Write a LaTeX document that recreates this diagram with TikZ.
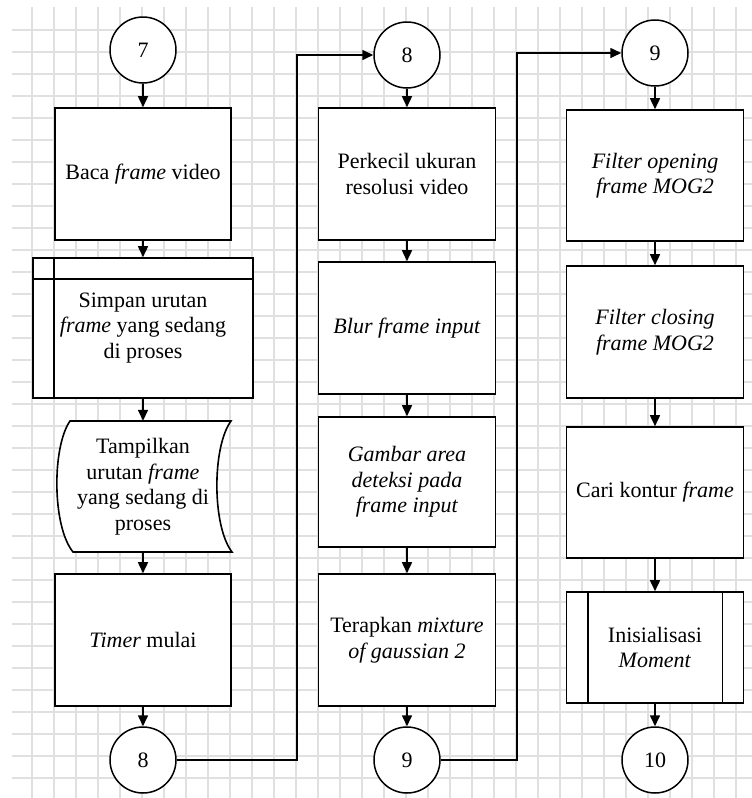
\documentclass[tikz,border=0pt]{standalone}
\usepackage{fontspec}
\setmainfont{Liberation Serif}
\usetikzlibrary{arrows.meta}
\begin{document}
\begin{tikzpicture}[x=1pt,y=-1pt,
  every node/.style={font=\fontsize{22}{25.5}\selectfont, align=center, inner sep=0pt},
  proc/.style={draw, line width=1.6pt, fill=white, minimum width=177pt, minimum height=132pt},
  conn/.style={draw, circle, line width=1.5pt, fill=white, minimum size=66pt},
  flow/.style={line width=1.6pt, -{Triangle[length=11pt,width=10pt]}},
  gridline/.style={draw=black!12, line width=1.2pt},
  outline/.style={line width=1.6pt},
]
\useasboundingbox (0,0) rectangle (752,798);
\fill[white] (0,0) rectangle (752,798);

% background grid
\begin{scope}
  \clip (12,7) rectangle (752,798);
  \foreach \gx in {32,54,...,752} \draw[gridline] (\gx,7) -- (\gx,798);
  \foreach \gy in {30,52,...,798} \draw[gridline] (12,\gy) -- (752,\gy);
\end{scope}

% ---- first column ----
\node[conn] (c7) at (143,50) {7};
\node[proc, minimum width=176pt] (b1) at (143,174) {Baca \textit{frame} video};
\node[proc, minimum width=220pt, minimum height=140pt] (b2) at (143,328)
  {Simpan urutan\\\textit{frame} yang sedang\\di proses};
\draw[outline] ([xshift=22pt]b2.north west) -- ([xshift=22pt]b2.south west);
\draw[outline] ([yshift=-22pt]b2.north west) -- ([yshift=-22pt]b2.north east);
% display shape
\fill[white] (70,421) -- (231,421) .. controls (212,447) and (212,526) .. (232,552)
  -- (73,552) .. controls (52,526) and (52,447) .. cycle;
\draw[outline] (70,421) -- (231,421) .. controls (212,447) and (212,526) .. (232,552)
  -- (73,552) .. controls (52,526) and (52,447) .. cycle;
\node[minimum width=176pt, minimum height=131pt] (b3) at (143,486.5)
  {Tampilkan\\urutan \textit{frame}\\yang sedang di\\proses};
\node[proc, minimum width=176pt] (b4) at (143,640) {\textit{Timer} mulai};
\node[conn] (c8a) at (143,760) {8};

\draw[flow] (c7) -- (b1);
\draw[flow] (b1) -- (b2);
\draw[flow] (b2) -- (b3);
\draw[flow] (b3) -- (b4);
\draw[flow] (b4) -- (c8a);

% ---- second column ----
\node[conn] (c8b) at (407,55) {8};
\node[proc] (p1) at (407,174) {Perkecil ukuran\\resolusi video};
\node[proc] (p2) at (407,328) {\textit{Blur frame input}};
\node[proc, minimum height=130pt] (p3) at (407,482)
  {\textit{Gambar area}\\\textit{deteksi pada}\\\textit{frame input}};
\node[proc] (p4) at (407,640) {Terapkan \textit{mixture}\\\textit{of gaussian 2}};
\node[conn] (c9a) at (407,760) {9};

\draw[flow] (c8b) -- (p1);
\draw[flow] (p1) -- (p2);
\draw[flow] (p2) -- (p3);
\draw[flow] (p3) -- (p4);
\draw[flow] (p4) -- (c9a);

% ---- third column ----
\node[conn] (c9b) at (655,53) {9};
\node[proc, minimum height=131pt] (q1) at (655,175.5) {\textit{Filter opening}\\\textit{frame MOG2}};
\node[proc] (q2) at (655,332) {\textit{Filter closing}\\\textit{frame MOG2}};
\node[proc, minimum height=131pt] (q3) at (655,492.5) {Cari kontur \textit{frame}};
\node[proc, minimum height=111pt] (q4) at (655,647.5) {Inisialisasi\\\textit{Moment}};
\draw[outline] ([xshift=22pt]q4.north west) -- ([xshift=22pt]q4.south west);
\draw[outline] ([xshift=-22pt]q4.north east) -- ([xshift=-22pt]q4.south east);
\node[conn] (c10) at (655,760) {10};

\draw[flow] (c9b) -- (q1);
\draw[flow] (q1) -- (q2);
\draw[flow] (q2) -- (q3);
\draw[flow] (q3) -- (q4);
\draw[flow] (q4) -- (c10);

% ---- off-page links between columns ----
\coordinate (j1) at (297,760);
\coordinate (j2) at (517,760);
\draw[flow] (c8a) -- (j1) |- (c8b);
\draw[flow] (c9a) -- (j2) |- (c9b);
\end{tikzpicture}
\end{document}
